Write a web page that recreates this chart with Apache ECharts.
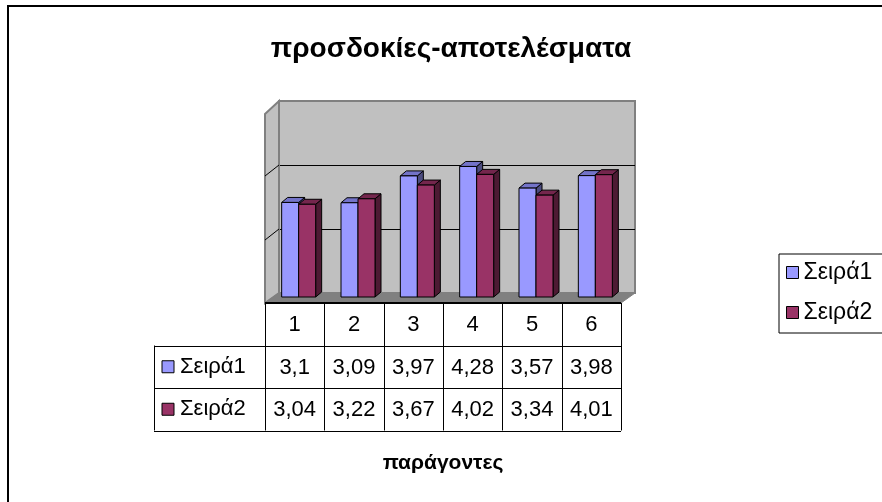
<!DOCTYPE html>
<html>
<head>
<meta charset="utf-8">
<script src="https://cdn.jsdelivr.net/npm/echarts@6/dist/echarts.min.js"></script>
<style>
  html, body { margin: 0; padding: 0; background: #fff; }
  #chart { width: 882px; height: 502px; }
</style>
</head>
<body>
<div id="chart"></div>
<script>
// data
var categories = ['1', '2', '3', '4', '5', '6'];
var seriesNames = ['Σειρά1', 'Σειρά2'];
var seira1 = [3.1, 3.09, 3.97, 4.28, 3.57, 3.98];
var seira2 = [3.04, 3.22, 3.67, 4.02, 3.34, 4.01];

var FONT = 'Liberation Sans, Arial, sans-serif';
var colors = ['#9999FF', '#993366'];
var topColors = ['#7373C8', '#74264D'];
var sideColors = ['#4C4C80', '#4D1A33'];

// layout
var tblLeft = 265, tblRight = 621, tblTop = 303, rowH = 42.5, labLeft = 154;
var depthX = 14, depthY = 10;

function fmt(v) {
    return String(v).replace('.', ',');
}

// 3d column drawn from library coords
function makeRender(k) {
    return function (params, api) {
        var base = api.coord([api.value(0), 0]);
        var top = api.coord([api.value(0), api.value(1)]);
        var barW = 17, dx = 6, dy = -5, shift = 4;
        var x0 = base[0] + shift + (k === 0 ? -barW : 0);
        var yb = base[1], yt = top[1];
        var st = { stroke: '#000', lineWidth: 1 };
        return {
            type: 'group',
            children: [
                { type: 'polygon', shape: { points: [[x0 + barW, yt], [x0 + barW + dx, yt + dy], [x0 + barW + dx, yb + dy], [x0 + barW, yb]] },
                  style: Object.assign({ fill: sideColors[k] }, st) },
                { type: 'polygon', shape: { points: [[x0, yt], [x0 + dx, yt + dy], [x0 + barW + dx, yt + dy], [x0 + barW, yt]] },
                  style: Object.assign({ fill: topColors[k] }, st) },
                { type: 'rect', shape: { x: x0, y: yt, width: barW, height: yb - yt },
                  style: Object.assign({ fill: colors[k] }, st) }
            ]
        };
    };
}

var wallL = tblLeft + depthX, wallR = tblRight + depthX, wallT = 101, wallB = tblTop - depthY;

var graphics = [
    // frame
    { type: 'rect', z: 0, shape: { x: 8, y: 6, width: 1000, height: 600 }, style: { fill: 'none', stroke: '#000', lineWidth: 2 } },
    // side wall
    { type: 'polygon', z: 1, shape: { points: [[tblLeft, wallT + 13], [wallL, wallT], [wallL, wallB], [tblLeft, tblTop]] },
      style: { fill: '#C0C0C0', stroke: '#808080', lineWidth: 2 } },
    { type: 'line', z: 2, shape: { x1: wallL, y1: 165, x2: tblLeft, y2: 176 }, style: { stroke: '#000', lineWidth: 1 } },
    { type: 'line', z: 2, shape: { x1: wallL, y1: 229, x2: tblLeft, y2: 240 }, style: { stroke: '#000', lineWidth: 1 } },
    // floor
    { type: 'polygon', z: 1, shape: { points: [[tblLeft, tblTop], [wallL, wallB], [wallR, wallB], [tblRight, tblTop]] },
      style: { fill: '#808080', stroke: '#808080', lineWidth: 1 } },
    { type: 'line', z: 3, shape: { x1: tblLeft, y1: tblTop, x2: tblRight, y2: tblTop }, style: { stroke: '#000', lineWidth: 2 } }
];

// data table lines
var colW = (tblRight - tblLeft) / categories.length;
for (var i = 0; i <= categories.length; i++) {
    var x = Math.round(tblLeft + i * colW) + 0.5;
    graphics.push({ type: 'line', z: 3, shape: { x1: x, y1: tblTop, x2: x, y2: tblTop + 3 * rowH }, style: { stroke: '#000', lineWidth: 1 } });
}
for (var r = 1; r <= 3; r++) {
    var y = Math.round(tblTop + r * rowH) + 0.5;
    graphics.push({ type: 'line', z: 3, shape: { x1: labLeft, y1: y, x2: tblRight, y2: y }, style: { stroke: '#000', lineWidth: 1 } });
}
graphics.push({ type: 'line', z: 3, shape: { x1: labLeft + 0.5, y1: tblTop + rowH, x2: labLeft + 0.5, y2: tblTop + 3 * rowH }, style: { stroke: '#000', lineWidth: 1 } });
for (var s = 0; s < 2; s++) {
    var cy = tblTop + (s + 1.5) * rowH;
    graphics.push({ type: 'rect', z: 3, shape: { x: 162, y: cy - 6, width: 12, height: 12 }, style: { fill: colors[s], stroke: '#000', lineWidth: 1 } });
    graphics.push({ type: 'text', z: 3, x: 180, y: cy, style: { text: seriesNames[s], font: '22px ' + FONT, fill: '#000', verticalAlign: 'middle' } });
}

var chart = echarts.init(document.getElementById('chart'));

var option = {
    animation: false,
    backgroundColor: '#fff',
    title: {
        text: 'προσδοκίες-αποτελέσματα',
        left: 446,
        textAlign: 'center',
        top: 30,
        textStyle: { fontFamily: FONT, fontSize: 28, fontWeight: 'bold', color: '#000' }
    },
    legend: {
        orient: 'vertical',
        left: 779,
        top: 254,
        padding: [7, 40, 9, 7],
        itemGap: 17,
        itemWidth: 12,
        itemHeight: 12,
        borderColor: '#000',
        borderWidth: 1,
        icon: 'rect',
        textStyle: { fontFamily: FONT, fontSize: 23, color: '#000', lineHeight: 23 },
        data: [
            { name: seriesNames[0], itemStyle: { color: colors[0], borderColor: '#000', borderWidth: 1 } },
            { name: seriesNames[1], itemStyle: { color: colors[1], borderColor: '#000', borderWidth: 1 } }
        ]
    },
    grid: [
        { left: wallL, top: wallT, width: wallR - wallL, height: wallB - wallT,
          show: true, backgroundColor: '#C0C0C0', borderColor: '#808080', borderWidth: 2 },
        { left: tblLeft, top: 114, width: tblRight - tblLeft, height: 297 - 114 }
    ],
    xAxis: [
        { gridIndex: 0, type: 'category', data: categories, show: false },
        {
            gridIndex: 1, type: 'category', data: categories,
            axisLine: { show: false }, axisTick: { show: false },
            axisLabel: {
                margin: 7,
                interval: 0,
                formatter: function (v, i) {
                    return '{h|' + v + '}\n{v|' + fmt(seira1[i]) + '}\n{v|' + fmt(seira2[i]) + '}';
                },
                rich: {
                    h: { fontFamily: FONT, fontSize: 22, lineHeight: rowH, color: '#000' },
                    v: { fontFamily: FONT, fontSize: 22, lineHeight: rowH, color: '#000' }
                }
            },
            name: 'παράγοντες',
            nameLocation: 'middle',
            nameGap: 156,
            nameTextStyle: { fontFamily: FONT, fontSize: 21, fontWeight: 'bold', color: '#000' }
        }
    ],
    yAxis: [
        { gridIndex: 0, type: 'value', min: 0, max: 6, interval: 2,
          axisLabel: { show: false }, axisLine: { show: false }, axisTick: { show: false },
          splitLine: { show: true, showMinLine: false, showMaxLine: false, lineStyle: { color: '#000', width: 1 } } },
        { gridIndex: 1, type: 'value', min: 0, max: 6, show: false, splitLine: { show: false } }
    ],
    graphic: graphics,
    series: [
        { name: seriesNames[0], type: 'custom', xAxisIndex: 1, yAxisIndex: 1, z: 5,
          itemStyle: { color: colors[0] },
          renderItem: makeRender(0),
          data: seira1.map(function (v, i) { return [i, v]; }) },
        { name: seriesNames[1], type: 'custom', xAxisIndex: 1, yAxisIndex: 1, z: 6,
          itemStyle: { color: colors[1] },
          renderItem: makeRender(1),
          data: seira2.map(function (v, i) { return [i, v]; }) }
    ]
};

chart.setOption(option);
</script>
</body>
</html>
